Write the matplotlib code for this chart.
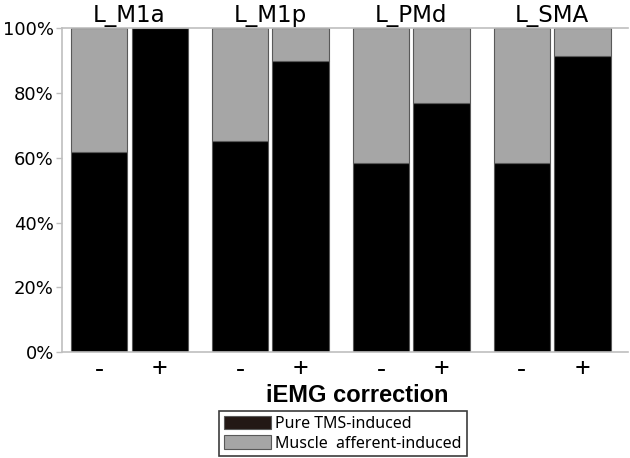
import matplotlib
matplotlib.use('Agg')
import matplotlib.pyplot as plt
import numpy as np
from matplotlib.patches import Patch

regions = ['L_M1a', 'L_M1p', 'L_PMd', 'L_SMA']
conditions = ['-', '+']
# percent of pure TMS-induced responses, without (-) and with (+) iEMG correction
pure_minus = [61.7, 65.3, 58.3, 58.3]
pure_plus = [100.0, 90.0, 76.9, 91.4]

muscle_minus = [100 - v for v in pure_minus]
muscle_plus = [100 - v for v in pure_plus]

black = '#000000'
gray = '#a6a6a6'
edge = '#595959'

fig = plt.figure(figsize=(6.3, 4.58), dpi=100)
ax = fig.add_axes([0.0989, 0.2314, 0.8981, 0.7066])

xpos = np.arange(len(regions))
off = 0.215
w = 0.40

ax.bar(xpos - off, pure_minus, width=w, color=black, edgecolor=edge, linewidth=0.8)
ax.bar(xpos - off, muscle_minus, width=w, bottom=pure_minus, color=gray, edgecolor=edge, linewidth=0.8)
ax.bar(xpos + off, pure_plus, width=w, color=black, edgecolor=edge, linewidth=0.8)
ax.bar(xpos + off, muscle_plus, width=w, bottom=pure_plus, color=gray, edgecolor=edge, linewidth=0.8)

ax.set_xlim(-0.477, 3.54)
ax.set_ylim(0, 100)
ax.set_yticks([0, 20, 40, 60, 80, 100])
ax.set_yticklabels(['0%', '20%', '40%', '60%', '80%', '100%'], fontfamily='DejaVu Sans', fontsize=13)

ticks = np.concatenate([xpos - off, xpos + off])
labels = [conditions[0]] * len(regions) + [conditions[1]] * len(regions)
ax.set_xticks(ticks)
ax.set_xticklabels(labels, fontfamily='Noto Sans', fontsize=20)
ax.tick_params(axis='x', length=0, pad=3)
ax.tick_params(axis='y', length=4, width=1, color='#bfbfbf', pad=2)

for s in ['left', 'bottom', 'top']:
    ax.spines[s].set_color('#bfbfbf')
    ax.spines[s].set_linewidth(1.2)
ax.spines['right'].set_visible(False)

for i, name in enumerate(regions):
    ax.text(xpos[i], 102.0, name, ha='center', va='baseline', fontfamily='DejaVu Sans', fontsize=16.6)

fig.text(357 / 630, 1 - 402 / 458, 'iEMG correction', ha='center', va='baseline',
         fontfamily='Liberation Sans', fontweight='bold', fontsize=17)

handles = [Patch(facecolor='#231815', edgecolor=edge, linewidth=0.8),
           Patch(facecolor=gray, edgecolor=edge, linewidth=0.8)]
leg = fig.legend(handles, ['Pure TMS-induced', 'Muscle  afferent-induced'],
                 loc='upper center', bbox_to_anchor=(343 / 630, 1 - 411 / 458),
                 prop={'family': 'Noto Sans', 'size': 11.5}, fancybox=False,
                 edgecolor='#3c3c3c', framealpha=1, handlelength=2.94, handleheight=0.94,
                 handletextpad=0.25, labelspacing=0.2, borderpad=0.3, borderaxespad=0)
leg.get_frame().set_linewidth(1.2)

fig.savefig('out.png', dpi=100)
